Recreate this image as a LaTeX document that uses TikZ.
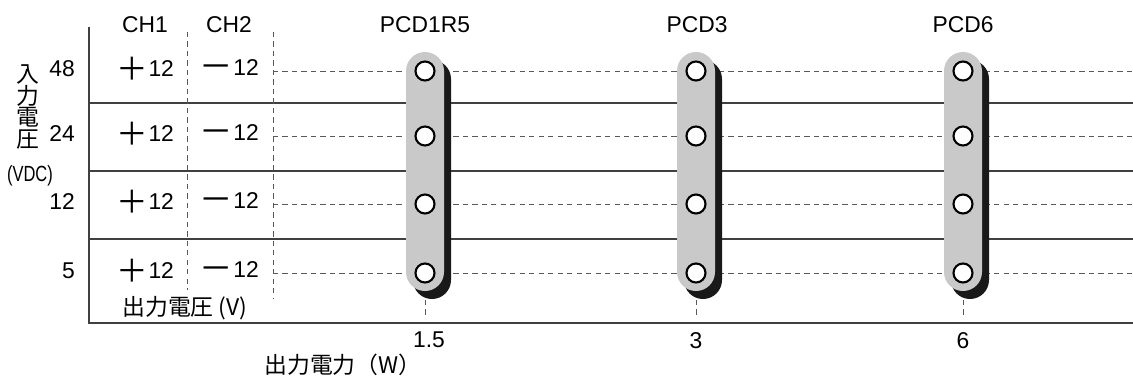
\documentclass[tikz,border=0pt]{standalone}
\usepackage{fontspec}
\setmainfont{Liberation Sans}
\newfontfamily\jpfont{Noto Sans CJK JP}
\usepackage{tikz}

\definecolor{pillgray}{gray}{0.79}
\definecolor{linegray}{gray}{0.25}
\definecolor{dashgray}{gray}{0.35}

\newcommand{\chplus}{{\jpfont\fontsize{18}{18}\selectfont\raisebox{-2.4pt}{＋}}\kern0.5pt}
\newcommand{\chminus}{{\jpfont\fontsize{19}{19}\selectfont\raisebox{-1.5pt}{－}}\kern0.5pt}

\begin{document}
\begin{tikzpicture}[x=0.02cm,y=-0.02cm,font=\fontsize{13}{15}\selectfont,
		rowline/.style={draw=linegray,line width=0.6pt},
		dashline/.style={draw=dashgray,line width=0.5pt,dash pattern=on 3pt off 2.4pt},
		pillshadow/.style={fill=black!90,rounded corners=0.38cm},
		pillbody/.style={fill=pillgray,rounded corners=0.38cm},
		hole/.style={draw=black,fill=white,line width=1.2pt}]
			\useasboundingbox (0,0) rectangle (1133,379);
			
			% titles
			\node (ch1) at (145,25) {CH1};
			\node (ch2) at (229,25) {CH2};
			\node (pcda) at (425,25) {PCD1R5};
			\node (pcdb) at (697,25) {PCD3};
			\node (pcdc) at (963,25) {PCD6};
			
			% input voltage axis
			\node[font=\jpfont\fontsize{13}{12.4}\selectfont,align=center] (vin) at (28,107) {入\\力\\電\\圧};
			\node[font=\fontsize{12.5}{13}\selectfont] (vdc) at (30,176) {\scalebox{0.75}[1]{(VDC)}};
			
			% frame and row lines
			\draw[rowline] (89,27) -- (89,323) -- (1133,323);
			\draw[rowline] (89,103) -- (1133,103);
			\draw[rowline] (89,171) -- (1133,171);
			\draw[rowline] (89,239) -- (1133,239);
			
			\draw[dashline] (187,32) -- (187,290);
			\draw[dashline] (273,32) -- (273,298);
			
			\draw[dashline] (273,71) -- (1133,71);
			\draw[dashline] (273,136) -- (1133,136);
			\draw[dashline] (273,204) -- (1133,204);
			\draw[dashline] (273,273) -- (1133,273);
			
			% rows
			\node[anchor=east] (in48) at (81,69) {48};
			\node (p48) at (145,69) {\chplus 12};
			\node (m48) at (229,69) {\chminus 12};
			
			\node[anchor=east] (in24) at (81,134) {24};
			\node (p24) at (145,134) {\chplus 12};
			\node (m24) at (229,134) {\chminus 12};
			
			\node[anchor=east] (in12) at (81,202) {12};
			\node (p12) at (145,202) {\chplus 12};
			\node (m12) at (229,202) {\chminus 12};
			
			\node[anchor=east] (in5) at (81,271) {5};
			\node (p5) at (145,271) {\chplus 12};
			\node (m5) at (229,271) {\chminus 12};
			
			\node[font=\jpfont\fontsize{13}{15}\selectfont] (vout) at (185,308) {出力電圧 (V)};
			
			% PCD1R5
			\fill[pillshadow] (413,60) rectangle (451,299);
			\fill[pillbody] (406,52) rectangle (444,291);
			\draw[hole] (425,71) circle (9.5);
			\draw[hole] (425,136) circle (9.5);
			\draw[hole] (425,204) circle (9.5);
			\draw[hole] (425,273) circle (9.5);
			\draw[dashline] (425,300) -- (425,318);
			\node (wa) at (429,340) {1.5};
			
			% PCD3
			\fill[pillshadow] (684,60) rectangle (722,299);
			\fill[pillbody] (677,52) rectangle (715,291);
			\draw[hole] (696,71) circle (9.5);
			\draw[hole] (696,136) circle (9.5);
			\draw[hole] (696,204) circle (9.5);
			\draw[hole] (696,273) circle (9.5);
			\draw[dashline] (696,300) -- (696,318);
			\node (wb) at (696,341) {3};
			
			% PCD6
			\fill[pillshadow] (951,60) rectangle (989,299);
			\fill[pillbody] (944,52) rectangle (982,291);
			\draw[hole] (963,71) circle (9.5);
			\draw[hole] (963,136) circle (9.5);
			\draw[hole] (963,204) circle (9.5);
			\draw[hole] (963,273) circle (9.5);
			\draw[dashline] (963,300) -- (963,318);
			\node (wc) at (963,341) {6};
			
			\node[font=\jpfont\fontsize{13}{15}\selectfont] (pout) at (343,365) {出力電力（W）};
			
		\end{tikzpicture}
\end{document}
